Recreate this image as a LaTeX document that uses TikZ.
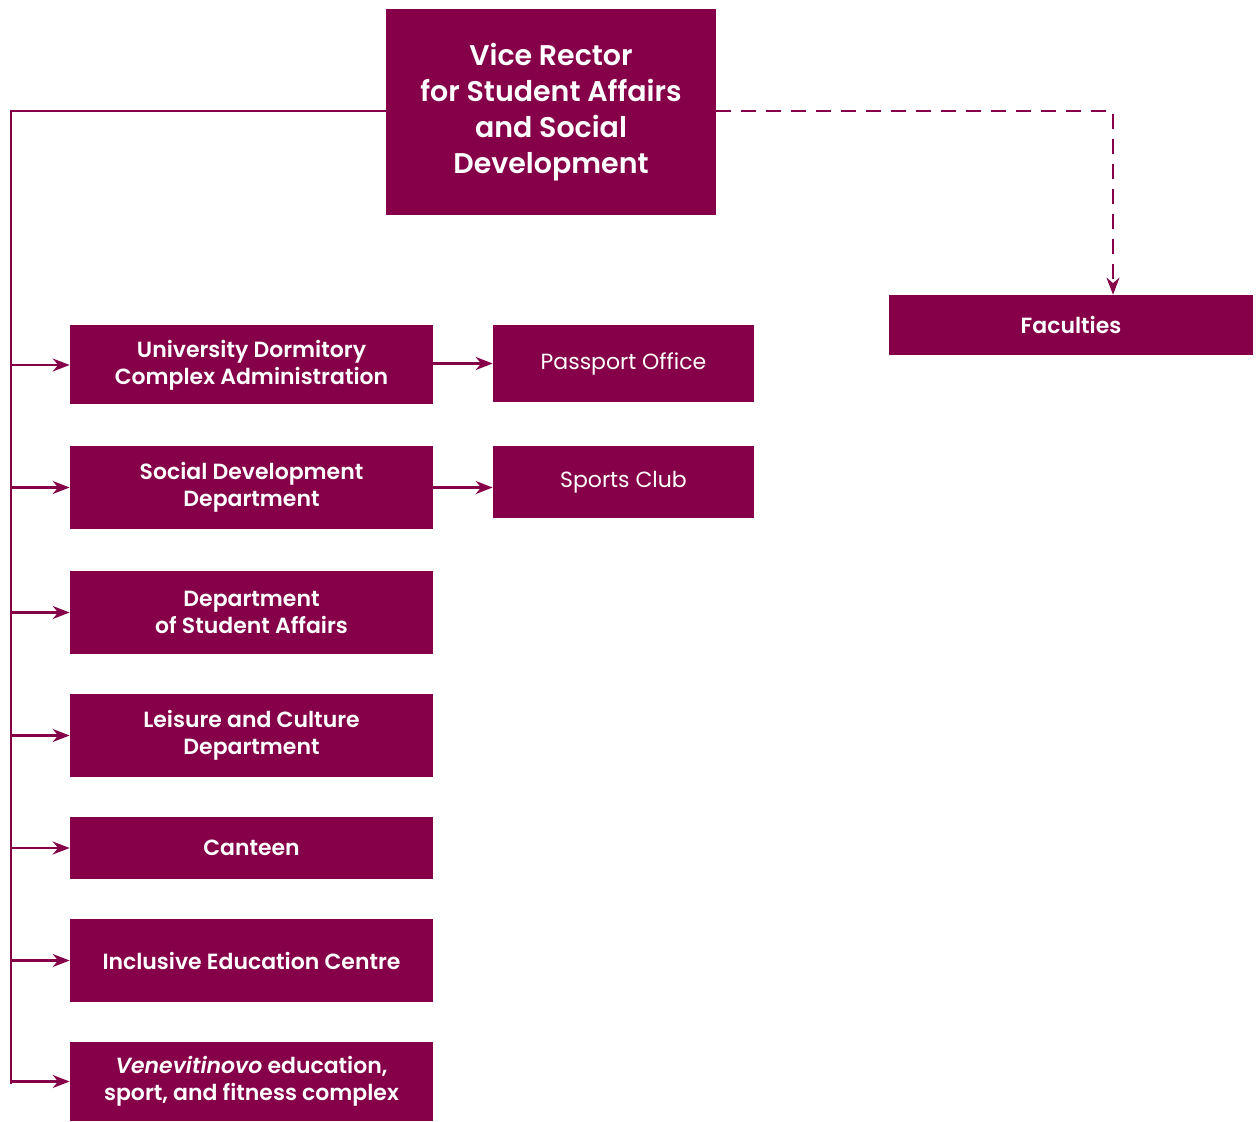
\documentclass[tikz,border=0pt]{standalone}
\usepackage{fontspec}
\setmainfont{Poppins}[BoldFont={Poppins SemiBold}, BoldItalicFont={Poppins SemiBold Italic}]
\usetikzlibrary{arrows.meta}
\definecolor{wine}{HTML}{850048}

\tikzset{
  unit/.style={fill=wine, text=white, font=\bfseries\fontsize{12.5}{15.4}\selectfont,
    align=center, inner sep=0pt, minimum width=7.26cm},
  subunit/.style={fill=wine, text=white, font=\fontsize{12.5}{15}\selectfont,
    align=center, inner sep=0pt, minimum width=5.22cm},
  link/.style={draw=wine, line width=1.2pt, -{Stealth[length=0.34cm, width=0.26cm]}}
}

\begin{document}
\begin{tikzpicture}
  \useasboundingbox (0,0) rectangle (25.12,-22.44);
  \node[unit, minimum width=6.6cm, minimum height=4.12cm,
        font=\bfseries\fontsize{16.2}{20.4}\selectfont] (vr) at (11.02,-2.24)
        {Vice Rector\\for Student Affairs\\and Social\\Development};
  \node[unit, minimum width=7.28cm, minimum height=1.2cm] (fac) at (21.42,-6.5) {Faculties};

  \node[unit, minimum height=1.58cm] (dorm) at (5.03,-7.30) {University Dormitory\\Complex Administration};
  \node[unit, minimum height=1.66cm] (soc) at (5.03,-9.75) {Social Development\\Department};
  \node[unit, minimum height=1.66cm] (stud) at (5.03,-12.25) {Department\\of Student Affairs};
  \node[unit, minimum height=1.66cm] (leis) at (5.03,-14.71) {Leisure and Culture\\Department};
  \node[unit, minimum height=1.24cm] (cant) at (5.03,-16.96) {Canteen};
  \node[unit, minimum height=1.66cm] (incl) at (5.03,-19.21) {Inclusive Education Centre};
  \node[unit, minimum height=1.58cm] (vene) at (5.03,-21.63) {\textit{Venevitinovo} education,\\sport, and fitness complex};

  \node[subunit, minimum height=1.54cm] (pass) at (12.47,-7.27) {Passport Office};
  \node[subunit, minimum height=1.44cm] (sport) at (12.47,-9.64) {Sports Club};

  % trunk on the left
  \coordinate (top) at (0.22,-2.22);
  \coordinate (bot) at (0.22,-21.68);
  \draw[draw=wine, line width=1.2pt] (vr.west |- top) -- (top) -- (bot);
  \foreach \n in {dorm,soc,stud,leis,cant,incl,vene}
    \draw[link] (top |- \n.west) -- (\n.west);

  \draw[link] (dorm.east |- pass) -- (pass);
  \draw[link] (soc) -- (soc -| sport.west);

  % dashed line to faculties
  \coordinate (corner) at (22.26,-2.22);
  \draw[link, dash pattern=on 0.3cm off 0.2cm] (vr.east |- corner) -- (corner) -- (corner |- fac.north);
\end{tikzpicture}
\end{document}
